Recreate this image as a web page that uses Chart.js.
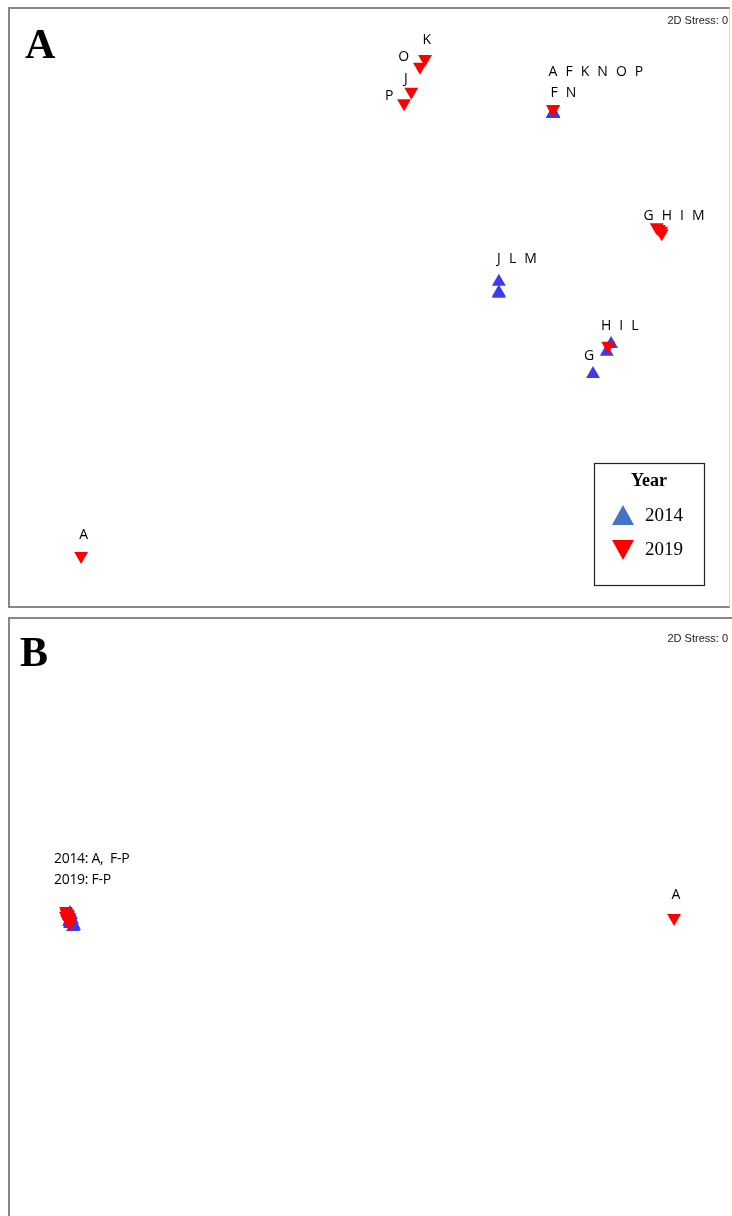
<!DOCTYPE html>
<html>
<head>
<meta charset="utf-8">
<script src="https://cdn.jsdelivr.net/npm/chart.js@4.4.1/dist/chart.umd.min.js"></script>
<style>
  html, body { margin: 0; padding: 0; background: #fff; }
  body { width: 732px; height: 1216px; overflow: hidden; position: relative; }
  .frame { position: absolute; box-sizing: border-box; border: 2px solid #878787; }
  canvas { position: absolute; }
</style>
</head>
<body>
<div class="frame" style="left:8px;top:7px;width:722px;height:601px;border-right-color:#d6d6d6;border-right-width:1px;"></div>
<div class="frame" style="left:8px;top:617px;width:740px;height:640px;"></div>
<canvas id="panelA" width="724" height="599" style="left:8px;top:8px;"></canvas>
<canvas id="panelB" width="724" height="598" style="left:8px;top:618px;"></canvas>
<script>
// ---- Panel A: nMDS ordination, sites by year ----
const sitesA2014 = ['A', 'F', 'K', 'N', 'O', 'P', 'J', 'L', 'M', 'H', 'I', 'G'];
const xA2014 = [75.3, 75.3, 75.3, 75.3, 75.3, 75.3, 67.8, 67.8, 67.8, 83.3, 82.7, 80.8];
const yA2014 = [82.4, 82.4, 82.4, 82.4, 82.4, 82.4, 54.3, 52.5, 52.3, 43.9, 42.6, 38.9];

const sitesA2019 = ['A', 'K', 'O', 'J', 'P', 'F', 'N', 'G', 'H', 'I', 'M', 'L'];
const xA2019 = [10.1, 57.6, 56.9, 55.7, 54.7, 75.3, 75.3, 89.6, 89.9, 90.2, 90.3, 82.9];
const yA2019 = [8.5, 91.5, 90.2, 86.0, 84.1, 83.1, 83.1, 63.4, 63.1, 62.8, 62.4, 43.6];

const labelTextA = ['K', 'O', 'J', 'P', 'A F K N O P', 'F N', 'G H I M', 'J L M', 'H I L', 'G', 'A'];
const labelXA = [58.0, 54.8, 55.1, 52.8, 81.2, 76.7, 92.0, 70.3, 84.5, 80.4, 10.6];
const labelYA = [94.7, 91.8, 88.1, 85.3, 89.3, 85.8, 65.3, 58.1, 46.9, 41.9, 12.0];

// ---- Panel B: nMDS ordination, sites by year ----
const sitesB2014 = ['A', 'F', 'G', 'H', 'I', 'J', 'K', 'L', 'M', 'N', 'O', 'P'];
const xB2014 = [8.56, 8.43, 8.70, 8.56, 8.84, 8.98, 9.12, 8.43, 8.70, 8.84, 8.56, 8.98];
const yB2014 = [50.67, 50.17, 49.83, 49.50, 49.16, 48.83, 48.49, 49.16, 50.33, 49.50, 48.83, 48.33];

const sitesB2019 = ['A', 'F', 'G', 'H', 'I', 'J', 'K', 'L', 'M', 'N', 'O', 'P'];
const xB2019 = [92.0, 8.01, 8.15, 8.29, 8.01, 8.43, 8.15, 8.29, 8.43, 8.56, 8.15, 8.29];
const yB2019 = [49.83, 51.0, 50.67, 50.33, 50.17, 50.0, 49.67, 49.50, 49.16, 49.0, 50.5, 49.83];

const labelTextB = ['2014: A,  F-P', '2019: F-P', 'A'];
const labelXB = [6.35, 6.35, 92.4];
const labelYB = [59.7, 56.2, 53.7];
const labelAlignB = ['left', 'left', 'center'];

const yearNames = ['2014', '2019'];
const COL_2014 = '#3b3bf2';
const COL_2019 = '#ff0000';
const LEGEND_2014 = '#4472c4';

function points(xs, ys) {
  return xs.map((v, i) => ({ x: v, y: ys[i] }));
}

// Site letters placed next to the markers
const siteLabels = {
  id: 'siteLabels',
  afterDatasetsDraw(chart, args, opts) {
    const { ctx } = chart;
    const sx = chart.scales.x, sy = chart.scales.y;
    ctx.save();
    ctx.fillStyle = '#000';
    ctx.textBaseline = 'middle';
    opts.text.forEach((t, i) => {
      const align = opts.align ? opts.align[i] : 'center';
      ctx.font = '14px "Open Sans", sans-serif';
      ctx.letterSpacing = align === 'left' ? '-0.3px' : '2.2px';
      ctx.textAlign = align;
      let px = sx.getPixelForValue(opts.x[i]);
      if (align === 'center' && t.length > 1) px += 1.1;
      ctx.fillText(t, px, sy.getPixelForValue(opts.y[i]));
    });
    ctx.restore();
  }
};

// Panel letter, stress value and optional year key
const panelDecor = {
  id: 'panelDecor',
  afterDraw(chart, args, opts) {
    const { ctx } = chart;
    ctx.save();
    ctx.fillStyle = '#000';
    ctx.textBaseline = 'alphabetic';
    ctx.textAlign = 'left';
    ctx.font = 'bold 42px "Liberation Serif", serif';
    ctx.fillText(opts.letter, opts.letterX, opts.letterY);
    ctx.font = '11px "Liberation Sans", Arial, sans-serif';
    ctx.textAlign = 'right';
    ctx.fillStyle = '#222';
    ctx.fillText('2D Stress: 0', 720, opts.stressY);
    if (opts.key) {
      const bx = 586, by = 455, bw = 110, bh = 122;
      ctx.strokeStyle = '#222';
      ctx.lineWidth = 1.2;
      ctx.strokeRect(bx + 0.5, by + 0.5, bw, bh);
      ctx.fillStyle = '#000';
      ctx.textAlign = 'center';
      ctx.textBaseline = 'middle';
      ctx.font = 'bold 18px "Liberation Serif", serif';
      ctx.fillText('Year', 641, 473);
      // 2014 symbol
      ctx.fillStyle = LEGEND_2014;
      ctx.beginPath();
      ctx.moveTo(604, 517); ctx.lineTo(626, 517); ctx.lineTo(615, 497); ctx.closePath();
      ctx.fill();
      // 2019 symbol
      ctx.fillStyle = COL_2019;
      ctx.beginPath();
      ctx.moveTo(604, 532); ctx.lineTo(626, 532); ctx.lineTo(615, 552); ctx.closePath();
      ctx.fill();
      ctx.fillStyle = '#000';
      ctx.textAlign = 'left';
      ctx.font = '19px "Liberation Serif", serif';
      ctx.fillText(yearNames[0], 637, 508);
      ctx.fillText(yearNames[1], 637, 542);
    }
    ctx.restore();
  }
};

function makeChart(id, d2014, d2019, labelOpts, decorOpts) {
  return new Chart(document.getElementById(id), {
    type: 'scatter',
    data: {
      datasets: [
        {
          label: yearNames[0], data: d2014, order: 1,
          pointStyle: 'triangle', rotation: 0, pointRadius: 8, pointHoverRadius: 8,
          backgroundColor: COL_2014, borderColor: COL_2014, borderWidth: 0
        },
        {
          label: yearNames[1], data: d2019, order: 0,
          pointStyle: 'triangle', rotation: 180, pointRadius: 8, pointHoverRadius: 8,
          backgroundColor: COL_2019, borderColor: COL_2019, borderWidth: 0
        }
      ]
    },
    options: {
      responsive: false,
      animation: false,
      devicePixelRatio: 1,
      layout: { padding: 0, autoPadding: false },
      events: [],
      scales: {
        x: { type: 'linear', min: 0, max: 100, display: false },
        y: { type: 'linear', min: 0, max: 100, display: false }
      },
      plugins: {
        legend: { display: false },
        tooltip: { enabled: false },
        siteLabels: labelOpts,
        panelDecor: decorOpts
      }
    },
    plugins: [siteLabels, panelDecor]
  });
}

makeChart('panelA',
  points(xA2014, yA2014), points(xA2019, yA2019),
  { text: labelTextA, x: labelXA, y: labelYA },
  { letter: 'A', letterX: 17, letterY: 50, stressY: 16, key: true });

makeChart('panelB',
  points(xB2014, yB2014), points(xB2019, yB2019),
  { text: labelTextB, x: labelXB, y: labelYB, align: labelAlignB },
  { letter: 'B', letterX: 12, letterY: 48, stressY: 24, key: false });
</script>
</body>
</html>
